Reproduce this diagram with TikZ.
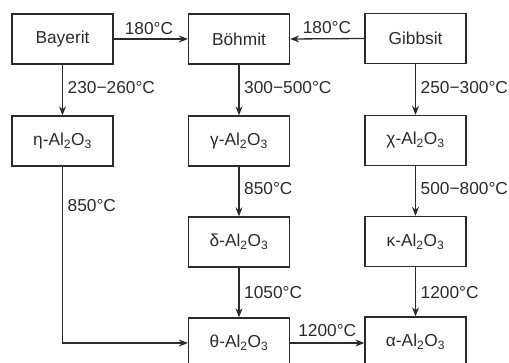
\documentclass[tikz,border=0pt]{standalone}
\usepackage{fontspec}
\setmainfont{Liberation Sans}
\usetikzlibrary{arrows.meta}
\definecolor{ink}{HTML}{2B2B2B}
\newcommand{\alox}[1]{#1-Al\textsubscript{2}O\textsubscript{3}}
\begin{document}
\begin{tikzpicture}[x=1pt,y=-1pt,
  box/.style={draw=ink, line width=1.3pt, minimum width=101pt, minimum height=50pt, inner sep=0pt, text=ink,
    font=\fontsize{17.3}{20}\selectfont},
  conn/.style={draw=ink, line width=1.3pt, -{Stealth[length=9pt,width=7pt]}},
  lab/.style={text=ink, inner sep=0pt, font=\fontsize{17.3}{20}\selectfont}]
\useasboundingbox[fill=white] (0,0) rectangle (509,363);
% row 1
\node[box] (bay) at (62.5,39) {Bayerit};
\node[box] (boh) at (239,39) {Böhmit};
\node[box] (gib) at (415.5,38.5) {Gibbsit};
% row 2
\node[box] (eta) at (62.5,141) {\alox{η}};
\node[box] (gam) at (239,141) {\alox{γ}};
\node[box] (chi) at (415.5,140.5) {\alox{χ}};
% row 3
\node[box] (del) at (239,242) {\alox{δ}};
\node[box] (kap) at (415.5,241.5) {\alox{κ}};
% row 4
\node[box] (the) at (239,343) {\alox{θ}};
\node[box] (alp) at (415.5,342) {\alox{α}};
% horizontal arrows
\draw[conn] (bay.east) -- (boh.west);
\node[lab, anchor=base west] at ([xshift=11pt,yshift=4pt]bay.east) {180°C};
\draw[conn] (gib.west) -- (boh.west -| boh.east);
\node[lab, anchor=base east] at ([xshift=-13pt,yshift=4.5pt]gib.west) {180°C};
\draw[conn] (the.east) -- (the.east -| alp.west);
\node[lab, anchor=base west] at ([xshift=8pt,yshift=6pt]the.east) {1200°C};
% vertical arrows
\draw[conn] (bay.south) -- (eta.north);
\node[lab, anchor=west] at ([xshift=5pt,yshift=-23pt]bay.south) {230−260°C};
\draw[conn] (boh.south) -- (gam.north);
\node[lab, anchor=west] at ([xshift=5pt,yshift=-23pt]boh.south) {300−500°C};
\draw[conn] (gib.south) -- (chi.north);
\node[lab, anchor=west] at ([xshift=5pt,yshift=-23pt]gib.south) {250−300°C};
\draw[conn] (gam.south) -- (del.north);
\node[lab, anchor=west] at ([xshift=5pt,yshift=-22pt]gam.south) {850°C};
\draw[conn] (chi.south) -- (kap.north);
\node[lab, anchor=west] at ([xshift=5pt,yshift=-22.5pt]chi.south) {500−800°C};
\draw[conn] (del.south) -- (the.north);
\node[lab, anchor=west] at ([xshift=5pt,yshift=-25pt]del.south) {1050°C};
\draw[conn] (kap.south) -- (alp.north);
\node[lab, anchor=west] at ([xshift=5pt,yshift=-25.5pt]kap.south) {1200°C};
% eta to theta
\draw[conn] (eta.south) |- (the.west);
\node[lab, anchor=west] at ([xshift=5pt,yshift=-39pt]eta.south) {850°C};
\end{tikzpicture}
\end{document}
